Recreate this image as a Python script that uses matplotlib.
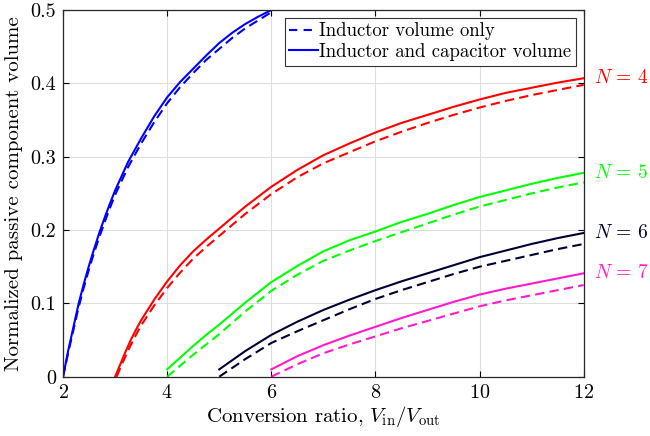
import matplotlib
matplotlib.use("Agg")
import matplotlib.pyplot as plt
from matplotlib.lines import Line2D

plt.rcParams["font.family"] = "serif"
plt.rcParams["font.serif"] = ["cmr10"]
plt.rcParams["mathtext.fontset"] = "cm"
plt.rcParams["axes.formatter.use_mathtext"] = True

# values (x = conversion ratio)
x3 = [2, 2.1, 2.2, 2.3, 2.4, 2.5, 2.6, 2.7, 2.8, 2.9, 3, 3.25, 3.5, 3.75, 4,
      4.25, 4.5, 4.75, 5, 5.25, 5.5, 5.75, 6]
n3_lc = [0, 0.036, 0.068, 0.1, 0.127, 0.152, 0.175, 0.197, 0.217, 0.236, 0.254,
         0.293, 0.325, 0.355, 0.381, 0.402, 0.42, 0.438, 0.455, 0.469, 0.481,
         0.491, 0.5]
n3_l = [0, 0.033, 0.064, 0.095, 0.122, 0.147, 0.17, 0.191, 0.211, 0.23, 0.248,
        0.286, 0.318, 0.347, 0.373, 0.395, 0.414, 0.432, 0.447, 0.462, 0.475,
        0.486, 0.497]

x4 = [3, 3.1, 3.2, 3.3, 3.4, 3.5, 3.75, 4, 4.25, 4.5, 4.75, 5, 5.5, 6, 6.5, 7,
      7.5, 8, 8.5, 9, 9.5, 10, 10.5, 11, 11.5, 12]
n4_lc = [0, 0.017, 0.034, 0.05, 0.064, 0.077, 0.105, 0.13, 0.152, 0.171, 0.187,
         0.202, 0.232, 0.259, 0.282, 0.302, 0.318, 0.333, 0.346, 0.357, 0.368,
         0.378, 0.387, 0.394, 0.401, 0.407]
x4d = [3.03, 3.1, 3.2, 3.3, 3.4, 3.5, 3.75, 4, 4.25, 4.5, 4.75, 5, 5.5, 6, 6.5,
       7, 7.5, 8, 8.5, 9, 9.5, 10, 10.5, 11, 11.5, 12]
n4_l = [0, 0.012, 0.028, 0.043, 0.057, 0.07, 0.097, 0.121, 0.142, 0.161, 0.177,
        0.192, 0.222, 0.249, 0.272, 0.291, 0.306, 0.321, 0.334, 0.346, 0.357,
        0.367, 0.376, 0.384, 0.391, 0.398]

x5 = [4, 4.25, 4.5, 4.75, 5, 5.5, 6, 6.5, 7, 7.5, 8, 8.5, 9, 9.5, 10, 10.5, 11,
      11.5, 12]
n5_lc = [0.01, 0.026, 0.042, 0.057, 0.071, 0.101, 0.129, 0.151, 0.171, 0.186,
         0.198, 0.211, 0.222, 0.234, 0.245, 0.254, 0.263, 0.271, 0.278]
n5_l = [0, 0.015, 0.03, 0.044, 0.058, 0.089, 0.117, 0.139, 0.158, 0.172, 0.185,
        0.197, 0.209, 0.221, 0.232, 0.241, 0.25, 0.258, 0.265]

x6 = [5, 5.5, 6, 6.5, 7, 7.5, 8, 8.5, 9, 9.5, 10, 10.5, 11, 11.5, 12]
n6_lc = [0.01, 0.035, 0.057, 0.075, 0.091, 0.105, 0.118, 0.13, 0.141, 0.152,
         0.163, 0.172, 0.181, 0.189, 0.196]
n6_l = [0, 0.024, 0.046, 0.062, 0.077, 0.092, 0.106, 0.118, 0.129, 0.14, 0.15,
        0.158, 0.166, 0.174, 0.181]

x7 = [6, 6.5, 7, 7.5, 8, 8.5, 9, 9.5, 10, 10.5, 11, 11.5, 12]
n7_lc = [0.01, 0.028, 0.043, 0.056, 0.068, 0.08, 0.091, 0.102, 0.112, 0.12,
         0.127, 0.134, 0.141]
n7_l = [0, 0.017, 0.032, 0.044, 0.055, 0.066, 0.076, 0.086, 0.096, 0.104,
        0.111, 0.118, 0.125]

labels = ["$N\\,=\\,4$", "$N\\,=\\,5$", "$N\\,=\\,6$", "$N\\,=\\,7$"]

blue = (0, 0, 1)
red = (1, 0, 0)
green = (0, 1, 0)
navy = (0, 0, 0.2)
pink = (1, 0.1, 0.8)

fig = plt.figure(figsize=(6.5, 4.36), dpi=100)
ax = fig.add_axes([0.097, 0.136, 0.801, 0.841])

dash = (0, (4.5, 2.5))
lw = 1.5
series = [
    (x3, n3_lc, x3, n3_l, blue),
    (x4, n4_lc, x4d, n4_l, red),
    (x5, n5_lc, x5, n5_l, green),
    (x6, n6_lc, x6, n6_l, navy),
    (x7, n7_lc, x7, n7_l, pink),
]
for xs, lc, xd, l, c in series:
    ax.plot(xd, l, color=c, lw=lw, linestyle=dash)
    ax.plot(xs, lc, color=c, lw=lw)

# curve labels to the right of the axes
for (xs, lc, xd, l, c), lab in zip(series[1:], labels):
    ax.text(12.2, lc[-1], lab, color=c, fontsize=14, va="center", ha="left",
            clip_on=False)

ax.set_xlim(2, 12)
ax.set_ylim(0, 0.5)
ax.set_xticks([2, 4, 6, 8, 10, 12])
ax.set_yticks([0, 0.1, 0.2, 0.3, 0.4, 0.5])
ax.set_yticklabels(["0", "0.1", "0.2", "0.3", "0.4", "0.5"])
ax.tick_params(direction="in", top=True, right=True, labelsize=14.5, length=4,
               width=0.8, pad=5)
ax.grid(True, color="#dedede", linewidth=0.8)
ax.set_axisbelow(True)
for s in ax.spines.values():
    s.set_linewidth(0.9)
    s.set_color("#262626")

ax.set_xlabel("Conversion ratio, $V_\\mathrm{in}/V_\\mathrm{out}$", fontsize=15,
              labelpad=2)
ax.set_ylabel("Normalized passive component volume", fontsize=15, labelpad=5)

handles = [Line2D([], [], color=blue, lw=lw, linestyle=(0, (4, 3))),
           Line2D([], [], color=blue, lw=lw)]
leg = ax.legend(handles, ["Inductor volume only", "Inductor and capacitor volume"],
                loc="upper right", fontsize=13.5, fancybox=False, framealpha=1,
                edgecolor="#333333", handlelength=1.5, handletextpad=0.1,
                borderpad=0.25, labelspacing=0.15, borderaxespad=0.4)
leg.get_frame().set_linewidth(0.8)

fig.savefig("out.png", dpi=100)
